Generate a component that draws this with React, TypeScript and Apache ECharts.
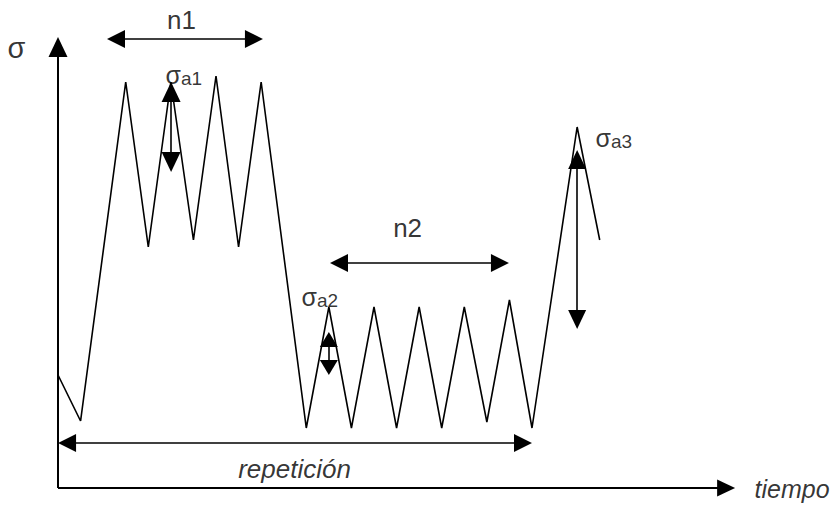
import React, { useEffect, useRef } from 'react';
import * as echarts from 'echarts';

// Waveform (time in half-cycle units, stress in arbitrary units)
const timeValues = [0, 1, 3, 4, 5, 6, 7, 8, 9, 11, 12, 13, 14, 15, 16, 17, 18, 19, 20, 21, 23, 24];
const stressValues = [11.3, 6.7, 40.6, 24.1, 40.6, 24.8, 41.2, 24.1, 40.6, 6.0, 18.1, 6.0, 18.1, 6.0, 18.1, 6.0, 18.1, 6.6, 18.8, 6.0, 36.1, 24.8];

// Arrows (data units): start, end, heads
const arrowNames = ['eje σ', 'eje tiempo', 'n1', 'n2', 'repetición', 'σa1', 'σa2', 'σa3'];
const arrowStart = [[0, 0], [0, 0], [2.57, 44.9], [12.45, 22.5], [0.4, 4.5], [5.01, 39.6], [12.0, 14.85], [23.0, 32.85]];
const arrowEnd = [[0, 44.1], [29.6, 0], [8.68, 44.9], [19.58, 22.5], [20.6, 4.5], [5.01, 32.6], [12.0, 12.05], [23.0, 16.85]];
const arrowBoth = [false, false, true, true, true, true, true, true];

// Labels (data units)
const labelTexts = ['σ', 'n1', 'σa1', 'n2', 'σa2', 'σa3', 'repetición', 'tiempo'];
const labelPos = [[-1.82, 44.0], [5.49, 46.8], [4.79, 41.3], [15.51, 26.0], [10.81, 19.1], [23.84, 35.0], [10.5, 1.9], [30.88, -0.1]];

const X_MIN = -2.57;
const X_MAX = 34.38;
const Y_MIN = -1.8;
const Y_MAX = 48.8;

const FONT = 'Arial, "Liberation Sans", Helvetica, sans-serif';

const headSizes: number[][] = [[19, 20], [17, 18], [18, 18], [18, 18], [18, 18], [19, 20], [18, 15], [18, 19]];
const lineWidths = [2, 2, 1.6, 1.6, 1.6, 1.6, 1.6, 1.6];

function labelItem(i: number) {
  const t = labelTexts[i];
  const base: any = {
    show: true,
    position: [0, 0],
    color: '#000',
    fontFamily: FONT,
  };
  if (t.startsWith('σ') && t.length > 1) {
    return {
      ...base,
      align: 'left',
      verticalAlign: 'middle',
      formatter: '{s|σ}{sub|' + t.slice(1) + '}',
      rich: {
        s: { fontSize: 25, fontFamily: FONT, color: '#000', lineHeight: 27 },
        sub: { fontSize: 19, fontFamily: FONT, color: '#000', verticalAlign: 'bottom', lineHeight: 27, padding: [8, 0, 0, 0] },
      },
    };
  }
  if (t === 'σ') {
    return { ...base, align: 'center', verticalAlign: 'middle', formatter: t, fontSize: 29 };
  }
  if (t === 'repetición') {
    return { ...base, align: 'center', verticalAlign: 'middle', formatter: t, fontSize: 26, fontStyle: 'italic' };
  }
  if (t === 'tiempo') {
    return { ...base, align: 'left', verticalAlign: 'middle', formatter: t, fontSize: 25, fontStyle: 'italic' };
  }
  return { ...base, align: 'center', verticalAlign: 'middle', formatter: t, fontSize: 26 };
}

export default function App() {
  const ref = useRef<HTMLDivElement>(null);
  useEffect(() => {
    document.body.style.margin = '0';
    if (!ref.current) return;
    const chart = echarts.init(ref.current, undefined, { renderer: 'svg' });

    const markData = arrowNames.map((name, i) => [
      {
        name,
        coord: arrowStart[i],
        symbol: arrowBoth[i] ? 'triangle' : 'none',
        symbolSize: headSizes[i],
        lineStyle: { width: lineWidths[i], color: '#000', type: 'solid' },
      },
      {
        coord: arrowEnd[i],
        symbol: 'triangle',
        symbolSize: headSizes[i],
      },
    ]);

    chart.setOption({
      animation: false,
      backgroundColor: '#fff',
      grid: { left: 0, right: 0, top: 0, bottom: 0 },
      xAxis: { type: 'value', min: X_MIN, max: X_MAX, show: false },
      yAxis: { type: 'value', min: Y_MIN, max: Y_MAX, show: false },
      series: [
        {
          type: 'line',
          data: timeValues.map((t, i) => [t, stressValues[i]]),
          showSymbol: false,
          symbol: 'none',
          clip: false,
          silent: true,
          lineStyle: { color: '#000', width: 1.6 },
          markLine: {
            silent: true,
            symbol: ['none', 'none'],
            label: { show: false },
            emphasis: { disabled: true },
            lineStyle: { color: '#000', width: 1.6, type: 'solid' },
            data: markData,
          },
        },
        {
          type: 'scatter',
          symbol: 'circle',
          symbolSize: 1,
          silent: true,
          clip: false,
          itemStyle: { color: 'rgba(0,0,0,0)' },
          data: labelTexts.map((t, i) => ({
            value: labelPos[i],
            label: labelItem(i),
          })),
        },
      ],
    });
    return () => chart.dispose();
  }, []);
  return <div ref={ref} style={{ width: 834, height: 506 }} />;
}
